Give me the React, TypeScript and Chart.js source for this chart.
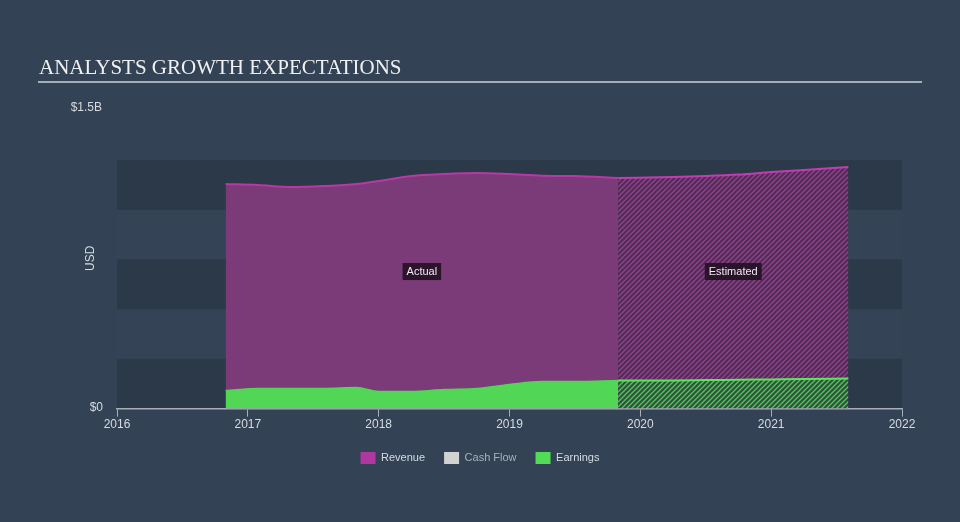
import React, { useEffect, useRef } from "react";
import { Chart, registerables } from "chart.js";

Chart.register(...registerables);

// ---- data (USD billions) ----
const actualYears = [2016.83, 2017.08, 2017.33, 2017.58, 2017.83, 2018.0, 2018.25, 2018.5, 2018.75, 2019.0, 2019.25, 2019.5, 2019.83];
const revenueActual = [1.355, 1.349, 1.337, 1.343, 1.355, 1.373, 1.403, 1.415, 1.421, 1.415, 1.405, 1.403, 1.391];
const earningsActual = [0.109, 0.121, 0.121, 0.121, 0.127, 0.103, 0.103, 0.115, 0.121, 0.145, 0.163, 0.163, 0.169];

const estimateYears = [2019.83, 2020.25, 2020.5, 2020.75, 2021.0, 2021.25, 2021.59];
const revenueEstimate = [1.391, 1.397, 1.403, 1.412, 1.427, 1.44, 1.458];
const earningsEstimate = [0.169, 0.17, 0.172, 0.174, 0.176, 0.178, 0.181];

const xTicks = [2016, 2017, 2018, 2019, 2020, 2021, 2022];
const yMaxLabel = "$1.5B";
const yMinLabel = "$0";
const legendLabels = ["Revenue", "Cash Flow", "Earnings"];
const legendColors = ["#b0379f", "#d2d2d2", "#52dc55"];
const legendTextColors = ["#d6dbe0", "#a9b1ba", "#d6dbe0"];
const titleText = "ANALYSTS GROWTH EXPECTATIONS";

const B = 1e9;
const pts = (xs: number[], ys: number[]) => xs.map((x, i) => ({ x, y: ys[i] * B }));

function makeHatch(bg: string, fg: string) {
  const c = document.createElement("canvas");
  c.width = 5;
  c.height = 5;
  const g = c.getContext("2d")!;
  g.fillStyle = bg;
  g.fillRect(0, 0, 5, 5);
  g.strokeStyle = fg;
  g.lineWidth = 1.3;
  g.beginPath();
  g.moveTo(-1, 6); g.lineTo(6, -1);
  g.moveTo(-3.5, 3.5); g.lineTo(3.5, -3.5);
  g.moveTo(1.5, 8.5); g.lineTo(8.5, 1.5);
  g.stroke();
  return g.createPattern(c, "repeat")!;
}

export default function App() {
  const ref = useRef<HTMLCanvasElement | null>(null);

  useEffect(() => {
    if (!ref.current) return;
    const revHatch = makeHatch("#4f2e56", "#96408f");
    const earnHatch = makeHatch("#32503f", "#52c858");

    const decor = {
      id: "decor",
      beforeDraw(chart: any) {
        const { ctx, chartArea } = chart;
        const y = chart.scales.y;
        ctx.save();
        const step = 0.3 * B;
        for (let i = 0; i < 5; i++) {
          const y0 = y.getPixelForValue(i * step);
          const y1 = y.getPixelForValue((i + 1) * step);
          ctx.fillStyle = i % 2 === 0 ? "rgba(30,40,52,0.35)" : "rgba(60,75,92,0.2)";
          ctx.fillRect(chartArea.left, y1, chartArea.right - chartArea.left, y0 - y1);
        }
        // title
        ctx.fillStyle = "#eef0f2";
        ctx.font = "21px 'Liberation Serif', 'Times New Roman', serif";
        ctx.textBaseline = "alphabetic";
        ctx.textAlign = "left";
        ctx.fillText(titleText, 39, 74);
        ctx.strokeStyle = "#a7adb4";
        ctx.lineWidth = 2;
        ctx.beginPath();
        ctx.moveTo(38, 82);
        ctx.lineTo(922, 82);
        ctx.stroke();
        // y labels
        ctx.fillStyle = "#d6dbe0";
        ctx.font = "12px 'Liberation Sans', Arial, sans-serif";
        ctx.textBaseline = "middle";
        ctx.textAlign = "right";
        ctx.fillText(yMaxLabel, 102, 108);
        ctx.fillText(yMinLabel, 103, y.getPixelForValue(0) - 1);
        ctx.save();
        ctx.translate(91, (chartArea.top + chartArea.bottom) / 2 - 26);
        ctx.rotate(-Math.PI / 2);
        ctx.textAlign = "center";
        ctx.fillText("USD", 0, 0);
        ctx.restore();
        ctx.restore();
      },
      afterDatasetsDraw(chart: any) {
        const { ctx } = chart;
        const x = chart.scales.x;
        const y = chart.scales.y;
        const ly = y.getPixelForValue(0.83 * B);
        const boxes = [
          { t: "Actual", a: actualYears[0], b: actualYears[actualYears.length - 1] },
          { t: "Estimated", a: estimateYears[0], b: estimateYears[estimateYears.length - 1] },
        ];
        ctx.save();
        ctx.font = "11px 'Liberation Sans', Arial, sans-serif";
        ctx.textAlign = "center";
        ctx.textBaseline = "middle";
        for (const bx of boxes) {
          const cx = (x.getPixelForValue(bx.a) + x.getPixelForValue(bx.b)) / 2;
          const w = ctx.measureText(bx.t).width + 8;
          ctx.fillStyle = "rgba(30,14,32,0.85)";
          ctx.fillRect(cx - w / 2, ly - 8, w, 17);
          ctx.fillStyle = "#ececec";
          ctx.fillText(bx.t, cx, ly + 1);
        }
        ctx.restore();
      },
    };

    const common = { pointRadius: 0, pointHoverRadius: 0, cubicInterpolationMode: "monotone" as const, fill: "origin" };

    const chart = new Chart(ref.current, {
      type: "line",
      data: {
        datasets: [
          { ...common, label: "Earnings", data: pts(actualYears, earningsActual), borderColor: "#52d655", backgroundColor: "#52d655", borderWidth: 1.5 },
          { ...common, label: "Earnings est", data: pts(estimateYears, earningsEstimate), borderColor: "#5ce65c", backgroundColor: earnHatch, borderWidth: 2 },
          { ...common, label: "Revenue", data: pts(actualYears, revenueActual), borderColor: "#b53aa5", backgroundColor: "#7b3a78", borderWidth: 2 },
          { ...common, label: "Revenue est", data: pts(estimateYears, revenueEstimate), borderColor: "#c23db4", backgroundColor: revHatch, borderWidth: 2 },
        ] as any,
      },
      options: {
        animation: false,
        responsive: false,
        devicePixelRatio: 1,
        layout: { padding: { left: 0, top: 160, right: 0, bottom: 48 } },
        scales: {
          x: {
            type: "linear",
            min: xTicks[0],
            max: xTicks[xTicks.length - 1],
            afterBuildTicks: (s: any) => { s.ticks = xTicks.map((v) => ({ value: v })); },
            ticks: {
              callback: (v: any) => String(v),
              color: "#d6dbe0",
              font: { size: 12, family: "'Liberation Sans', Arial, sans-serif" },
              padding: 1,
              maxRotation: 0,
              autoSkip: false,
            },
            grid: { display: true, drawOnChartArea: false, drawTicks: true, tickLength: 8, color: "#a7afb8", lineWidth: 1 },
            border: { color: "#a7afb8", width: 1.5 },
          },
          y: {
            position: "left",
            min: 0,
            max: 1.5 * B,
            ticks: { display: false },
            grid: { display: false },
            border: { display: false },
            afterFit: (s: any) => { s.width = 117; },
          },
          yr: {
            position: "right",
            min: 0,
            max: 1,
            ticks: { display: false },
            grid: { display: false },
            border: { display: false },
            afterFit: (s: any) => { s.width = 58; },
          },
        },
        plugins: {
          tooltip: { enabled: false },
          legend: {
            position: "bottom",
            onClick: () => {},
            labels: {
              boxWidth: 15,
              boxHeight: 12,
              padding: 19,
              font: { size: 11, family: "'Liberation Sans', Arial, sans-serif" },
              generateLabels: () =>
                legendLabels.map((t, i) => ({
                  text: t,
                  fillStyle: legendColors[i],
                  strokeStyle: legendColors[i],
                  lineWidth: 0,
                  fontColor: legendTextColors[i],
                  hidden: false,
                  datasetIndex: i,
                })) as any,
            },
          },
        },
      } as any,
      plugins: [decor],
    });
    return () => chart.destroy();
  }, []);

  return (
    <div style={{ position: "fixed", left: 0, top: 0, width: 960, height: 522, background: "#334254" }}>
      <canvas ref={ref} width={960} height={522} style={{ display: "block", width: 960, height: 522 }} />
    </div>
  );
}
